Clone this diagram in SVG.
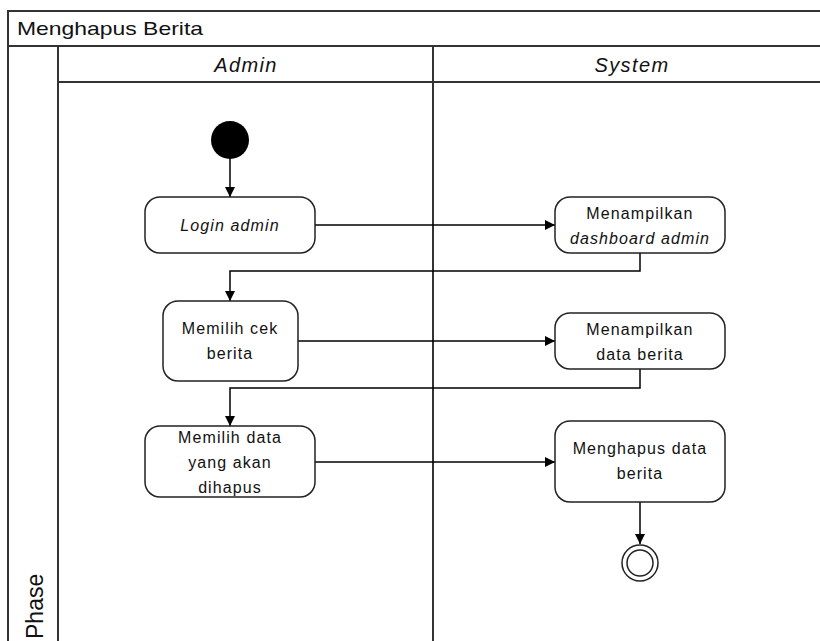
<svg xmlns="http://www.w3.org/2000/svg" width="820" height="641" viewBox="0 0 820 641">
  <defs>
    <marker id="arrow" viewBox="0 0 10 10" refX="10" refY="5" markerWidth="10" markerHeight="10" markerUnits="userSpaceOnUse" orient="auto">
      <path d="M0,0 L10,5 L0,10 Z" fill="#000"/>
    </marker>
    <style>
      .frame { fill: none; stroke: #333; stroke-width: 2; }
      .act { fill: #fff; stroke: #222; stroke-width: 1.5; }
      .flow { fill: none; stroke: #000; stroke-width: 1.5; marker-end: url(#arrow); }
      .t { font-family: "Liberation Sans", Arial, sans-serif; font-size: 16px; letter-spacing: 1.1px; fill: #111; text-anchor: middle; }
      .i { font-style: italic; }
      .hdr { font-family: "Liberation Sans", Arial, sans-serif; font-size: 20px; letter-spacing: 1.4px; font-style: italic; fill: #111; text-anchor: middle; }
    </style>
  </defs>

  <rect width="820" height="641" fill="#fff"/>

  <!-- pool frame, title bar, phase column and lanes -->
  <g id="pool">
    <rect class="frame" x="8" y="11" width="840" height="660"/>
    <line class="frame" x1="8" y1="46" x2="848" y2="46"/>
    <line class="frame" x1="58" y1="46" x2="58" y2="671"/>
    <line class="frame" x1="58" y1="82" x2="848" y2="82"/>
    <line class="frame" x1="433" y1="46" x2="433" y2="671"/>
    <text x="17" y="35" font-family="'Liberation Sans', Arial, sans-serif" font-size="19" fill="#111" textLength="186" lengthAdjust="spacingAndGlyphs">Menghapus Berita</text>
    <text class="hdr" x="246" y="72">Admin</text>
    <text class="hdr" x="632" y="72">System</text>
    <text transform="translate(43,639) rotate(-90)" font-family="'Liberation Sans', Arial, sans-serif" font-size="23" fill="#111">Phase</text>
  </g>

  <!-- control flow -->
  <g id="connectors">
    <path class="flow" d="M230,159 V197"/>
    <path class="flow" d="M315,225 H555"/>
    <path class="flow" d="M640,253 V271 H230 V301"/>
    <path class="flow" d="M298,341 H555"/>
    <path class="flow" d="M640,369 V388 H230 V426"/>
    <path class="flow" d="M315,462 H555"/>
    <path class="flow" d="M640,502 V544"/>
  </g>

  <g id="start">
    <circle cx="230" cy="140" r="19" fill="#000"/>
  </g>

  <g id="login-admin">
    <rect class="act" x="145" y="197" width="170" height="56" rx="15"/>
    <text class="t i" x="230" y="231">Login admin</text>
  </g>

  <g id="tampil-dashboard">
    <rect class="act" x="555" y="197" width="170" height="56" rx="15"/>
    <text class="t" x="640" y="219">Menampilkan</text>
    <text class="t i" x="640" y="244">dashboard admin</text>
  </g>

  <g id="pilih-cek-berita">
    <rect class="act" x="163" y="301" width="135" height="80" rx="15"/>
    <text class="t" x="230" y="334">Memilih cek</text>
    <text class="t" x="230" y="359">berita</text>
  </g>

  <g id="tampil-data-berita">
    <rect class="act" x="555" y="313" width="170" height="56" rx="15"/>
    <text class="t" x="640" y="335">Menampilkan</text>
    <text class="t" x="640" y="360">data berita</text>
  </g>

  <g id="pilih-data">
    <rect class="act" x="145" y="426" width="170" height="71" rx="15"/>
    <text class="t" x="230" y="443">Memilih data</text>
    <text class="t" x="230" y="468">yang akan</text>
    <text class="t" x="230" y="493">dihapus</text>
  </g>

  <g id="hapus-data">
    <rect class="act" x="555" y="421" width="170" height="81" rx="15"/>
    <text class="t" x="640" y="454">Menghapus data</text>
    <text class="t" x="640" y="479">berita</text>
  </g>

  <g id="end">
    <circle cx="640" cy="563" r="18" fill="#fff" stroke="#222" stroke-width="1.5"/>
    <circle cx="640" cy="563" r="13" fill="#fff" stroke="#222" stroke-width="1.5"/>
  </g>
</svg>
